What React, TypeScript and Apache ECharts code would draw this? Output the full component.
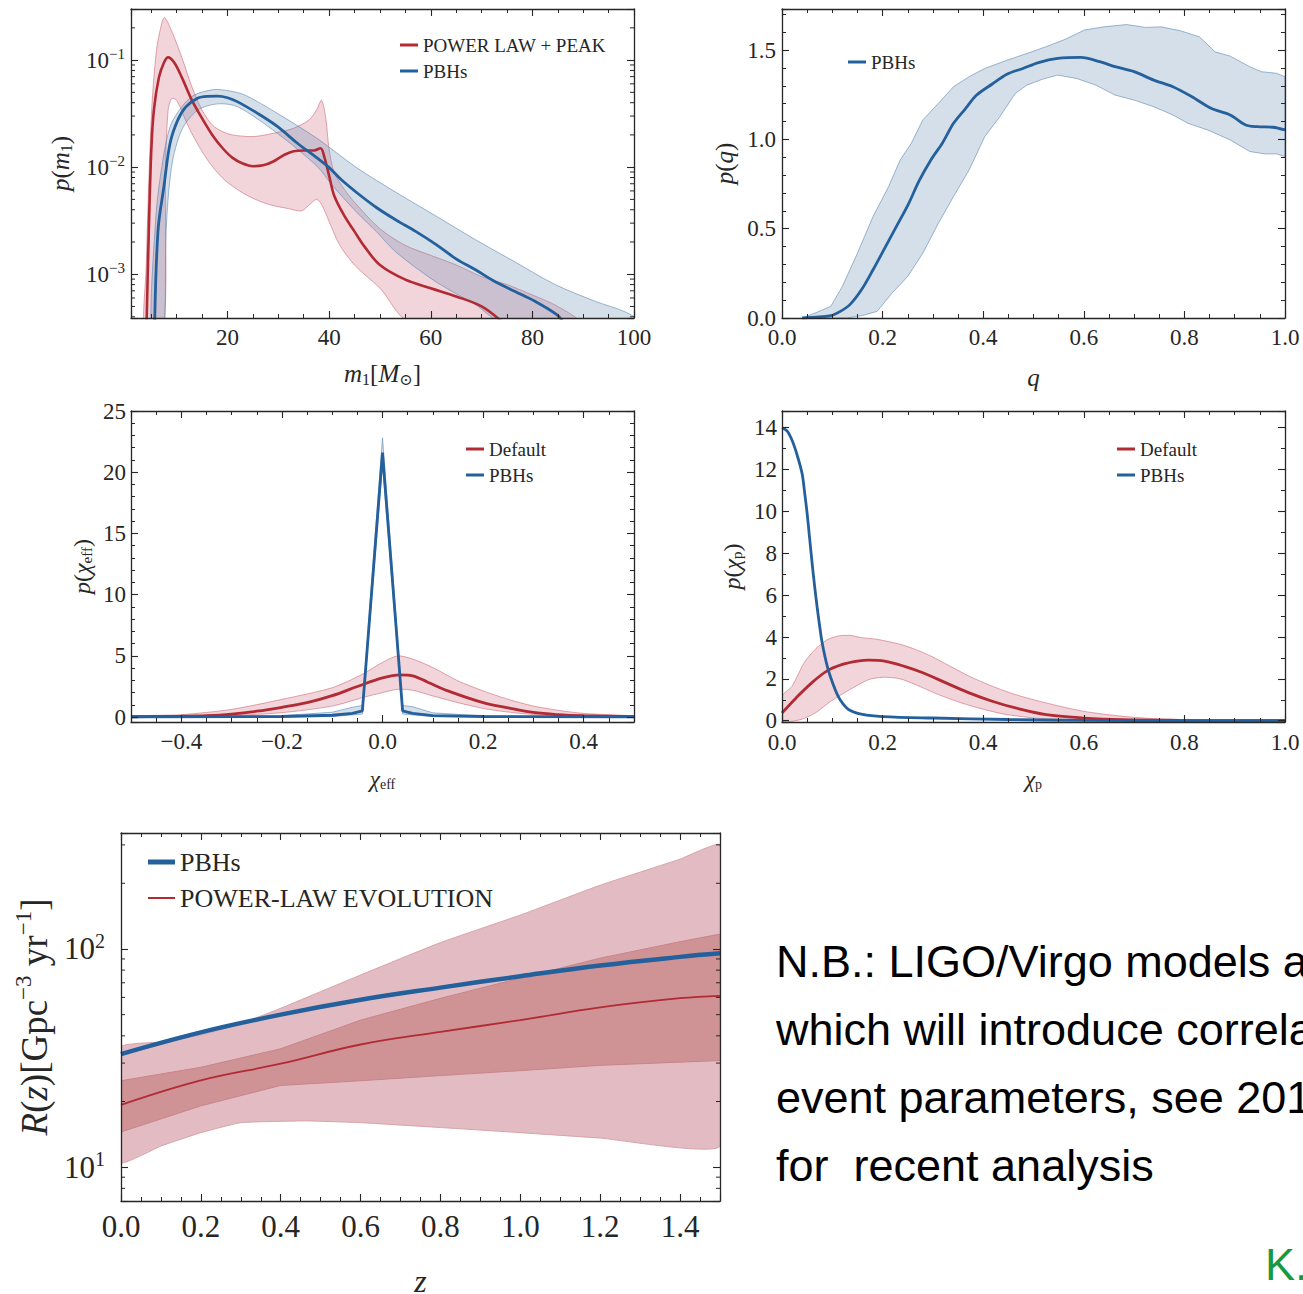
import React, { useEffect, useRef } from 'react';
import * as echarts from 'echarts';

const W = 1303;
const H = 1294;
const SERIF = '"Liberation Serif", "DejaVu Serif", serif';
const SANS = '"Liberation Sans", "DejaVu Sans", sans-serif';
const INK = '#262626';
const RED = '#b22a33';
const BLUE = '#23609c';
const RED_FILL = 'rgba(205, 100, 118, 0.27)';
const RED_EDGE = 'rgba(200, 95, 110, 0.55)';
const BLUE_FILL = 'rgba(95, 135, 178, 0.27)';
const BLUE_EDGE = 'rgba(95, 135, 178, 0.6)';
const OUTER_FILL = '#e2bcc2';
const OUTER_EDGE = '#d8a3aa';
const INNER_FILL = '#cf9396';
const INNER_EDGE = '#c8848a';

// ---------- Panel 1: p(m1) ----------
const m1RedX = [4.0, 4.5, 5, 5.5, 6.5, 7.5, 8.3, 9.5, 11, 13, 15, 17, 19, 21, 23, 25, 27, 29, 31, 33, 35, 37, 38.3, 39, 40, 41, 43, 45, 47, 50, 55, 60, 65, 70, 74];
const m1RedY = [2.5e-4, 2.5e-3, 0.0146, 0.034, 0.069, 0.095, 0.106, 0.095, 0.069, 0.042, 0.0285, 0.02, 0.0151, 0.0122, 0.0108, 0.0102, 0.0104, 0.0113, 0.0129, 0.0141, 0.0143, 0.0143, 0.015, 0.0127, 0.0083, 0.0054, 0.0035, 0.0025, 0.0018, 0.00122, 8.9e-4, 7.4e-4, 6.2e-4, 5.0e-4, 3.6e-4];
const m1RedUpX = [3.8, 4, 5, 6, 7, 7.6, 9, 11, 13, 15, 17, 19, 21, 25, 29, 33, 36, 37.5, 38.5, 39.3, 40, 41, 43, 45, 50, 55, 60, 65, 70, 75, 80, 85, 89];
const m1RedUpY = [2.5e-4, 1.2e-3, 0.0295, 0.122, 0.215, 0.25, 0.187, 0.106, 0.056, 0.034, 0.0248, 0.0215, 0.02, 0.0193, 0.0207, 0.0231, 0.0275, 0.034, 0.042, 0.0295, 0.0146, 0.0089, 0.0062, 0.0047, 0.00266, 0.00186, 0.0015, 0.00122, 9.5e-4, 8e-4, 6.4e-4, 5e-4, 3.6e-4];
const m1RedLoX = [7.3, 7.8, 8.3, 9, 10, 12, 14, 16, 18, 20, 24, 28, 32, 34.5, 36, 37.5, 38.5, 40, 42, 45, 50, 56];
const m1RedLoY = [2.5e-4, 0.0102, 0.034, 0.0437, 0.042, 0.0257, 0.0168, 0.0118, 0.0089, 0.0072, 0.0054, 0.0045, 0.0041, 0.0039, 0.0044, 0.005, 0.0045, 0.0031, 0.0019, 0.00122, 7.4e-4, 3.6e-4];
const m1BlueX = [5.6, 6.3, 7.5, 8.7, 10.2, 11.8, 14.1, 16, 18, 20, 22, 25.9, 29.8, 33.7, 37.6, 40, 42.3, 45.4, 49.3, 53.2, 57.1, 61, 64.9, 68.8, 72.7, 76.6, 80.5, 84.8, 86];
const m1BlueY = [2.5e-4, 2.5e-3, 6.7e-3, 0.0168, 0.0275, 0.0366, 0.044, 0.0458, 0.046, 0.0445, 0.0407, 0.0318, 0.024, 0.0168, 0.0122, 0.0099, 0.0077, 0.0058, 0.0042, 0.0032, 0.0025, 0.0019, 0.0014, 1.1e-3, 8.5e-4, 6.9e-4, 5.6e-4, 4.2e-4, 3.6e-4];
const m1BlueUpX = [5.0, 5.9, 7.1, 8.7, 11, 13.4, 17.3, 20.4, 23.5, 29.8, 37.6, 45.4, 53.2, 61, 68.8, 76.6, 84.5, 92.3, 98.5, 101];
const m1BlueUpY = [2.5e-4, 3.5e-3, 0.0103, 0.024, 0.0366, 0.047, 0.053, 0.0515, 0.047, 0.0318, 0.0186, 0.0099, 0.0058, 0.0035, 0.0021, 0.0013, 8e-4, 5.6e-4, 4.4e-4, 3.6e-4];
const m1BlueLoX = [7.3, 7.9, 9, 11, 14.1, 18, 22, 29.8, 37.6, 40.7, 45.4, 49.3, 53.2, 61, 68.8, 74];
const m1BlueLoY = [2.5e-4, 2.5e-3, 0.0102, 0.0223, 0.034, 0.039, 0.0366, 0.0207, 0.0102, 0.0067, 0.0038, 0.0025, 0.0016, 8.5e-4, 5.2e-4, 3.6e-4];

// ---------- Panel 2: p(q) ----------
const qX = [0.04, 0.097, 0.116, 0.135, 0.158, 0.181, 0.204, 0.227, 0.25, 0.273, 0.296, 0.319, 0.341, 0.364, 0.387, 0.418, 0.448, 0.479, 0.51, 0.548, 0.594, 0.632, 0.662, 0.7, 0.739, 0.777, 0.815, 0.853, 0.891, 0.922, 0.945, 0.976, 1.0];
const qY = [0, 0.013, 0.037, 0.075, 0.158, 0.27, 0.39, 0.51, 0.63, 0.77, 0.885, 0.98, 1.09, 1.17, 1.248, 1.31, 1.366, 1.397, 1.43, 1.453, 1.459, 1.435, 1.407, 1.379, 1.332, 1.295, 1.239, 1.174, 1.137, 1.081, 1.071, 1.068, 1.053];
const qUpX = [0.04, 0.066, 0.097, 0.12, 0.15, 0.181, 0.212, 0.235, 0.257, 0.28, 0.311, 0.341, 0.372, 0.403, 0.448, 0.487, 0.525, 0.563, 0.601, 0.64, 0.685, 0.723, 0.754, 0.792, 0.83, 0.861, 0.891, 0.93, 0.953, 0.983, 1.0];
const qUpY = [0, 0.028, 0.065, 0.177, 0.363, 0.568, 0.736, 0.885, 0.978, 1.109, 1.202, 1.295, 1.351, 1.397, 1.444, 1.481, 1.519, 1.56, 1.612, 1.63, 1.643, 1.627, 1.63, 1.608, 1.574, 1.49, 1.466, 1.407, 1.379, 1.37, 1.351];
const qLoX = [0.04, 0.128, 0.158, 0.189, 0.219, 0.25, 0.28, 0.311, 0.341, 0.372, 0.403, 0.433, 0.464, 0.487, 0.517, 0.548, 0.586, 0.624, 0.662, 0.7, 0.739, 0.777, 0.807, 0.846, 0.891, 0.93, 0.96, 0.983, 1.0];
const qLoY = [0, 0, 0.013, 0.037, 0.14, 0.233, 0.363, 0.531, 0.68, 0.829, 1.015, 1.127, 1.258, 1.304, 1.336, 1.36, 1.341, 1.304, 1.248, 1.22, 1.183, 1.137, 1.09, 1.053, 0.997, 0.932, 0.919, 0.919, 0.904];

// ---------- Panel 3: p(chi_eff) ----------
const ceRedX = [-0.5, -0.4, -0.35, -0.3, -0.25, -0.2, -0.15, -0.1, -0.05, 0, 0.035, 0.06, 0.09, 0.13, 0.2, 0.25, 0.3, 0.35, 0.4, 0.5];
const ceRedY = [0.03, 0.08, 0.12, 0.25, 0.48, 0.8, 1.18, 1.75, 2.5, 3.2, 3.45, 3.37, 2.85, 2.14, 1.18, 0.75, 0.38, 0.2, 0.11, 0.04];
const ceRedUpX = [-0.5, -0.4, -0.3, -0.2, -0.1, -0.04, 0, 0.03, 0.06, 0.1, 0.15, 0.2, 0.25, 0.3, 0.35, 0.4, 0.5];
const ceRedUpY = [0.1, 0.2, 0.63, 1.45, 2.4, 3.5, 4.47, 5.0, 4.74, 4.05, 2.96, 2.14, 1.45, 0.9, 0.55, 0.3, 0.1];
const ceRedLoX = [-0.5, -0.3, -0.2, -0.1, -0.04, 0, 0.03, 0.06, 0.1, 0.15, 0.2, 0.25, 0.3, 0.4, 0.5];
const ceRedLoY = [0.02, 0.14, 0.36, 0.9, 1.59, 2.0, 2.27, 2.19, 1.73, 1.18, 0.71, 0.41, 0.22, 0.06, 0.02];
const ceBlueX = [-0.5, -0.2, -0.1, -0.06, -0.04, 0, 0.04, 0.06, 0.1, 0.2, 0.5];
const ceBlueY = [0.02, 0.05, 0.15, 0.3, 0.5, 21.6, 0.5, 0.3, 0.12, 0.05, 0.02];
const ceBlueUpX = [-0.5, -0.2, -0.1, -0.06, -0.04, 0, 0.04, 0.06, 0.1, 0.2, 0.5];
const ceBlueUpY = [0.06, 0.12, 0.4, 0.8, 0.95, 22.8, 0.95, 0.85, 0.35, 0.1, 0.05];
const ceBlueLoX = [-0.5, -0.1, -0.04, 0, 0.04, 0.1, 0.5];
const ceBlueLoY = [0, 0.04, 0.25, 20.6, 0.25, 0.04, 0];

// ---------- Panel 4: p(chi_p) ----------
const cpBlueX = [0, 0.01, 0.02, 0.03, 0.04, 0.045, 0.05, 0.055, 0.06, 0.065, 0.07, 0.075, 0.08, 0.09, 0.1, 0.11, 0.12, 0.135, 0.16, 0.2, 0.3, 0.45, 0.6, 0.8, 1.0];
const cpBlueY = [14, 13.85, 13.4, 12.7, 11.8, 10.9, 9.9, 8.7, 7.5, 6.4, 5.4, 4.5, 3.7, 2.6, 1.85, 1.25, 0.85, 0.5, 0.3, 0.2, 0.13, 0.06, 0.02, 0.005, 0];
const cpRedX = [0, 0.028, 0.059, 0.089, 0.12, 0.15, 0.173, 0.204, 0.242, 0.28, 0.326, 0.372, 0.418, 0.464, 0.525, 0.6, 0.678, 0.79, 1.0];
const cpRedY = [0.37, 1.09, 1.81, 2.37, 2.69, 2.85, 2.9, 2.85, 2.61, 2.29, 1.81, 1.33, 0.93, 0.61, 0.29, 0.13, 0.05, 0.02, 0];
const cpRedUpX = [0, 0.02, 0.044, 0.066, 0.089, 0.112, 0.135, 0.158, 0.189, 0.235, 0.265, 0.296, 0.334, 0.372, 0.418, 0.464, 0.525, 0.6, 0.678, 0.754, 0.83, 1.0];
const cpRedUpY = [1.17, 1.65, 2.77, 3.41, 3.86, 4.05, 4.08, 3.97, 3.89, 3.65, 3.41, 3.09, 2.61, 2.13, 1.65, 1.25, 0.85, 0.45, 0.21, 0.08, 0.03, 0];
const cpRedLoX = [0, 0.036, 0.066, 0.097, 0.135, 0.173, 0.204, 0.235, 0.265, 0.311, 0.357, 0.403, 0.448, 0.525, 0.6, 1.0];
const cpRedLoY = [0, 0.05, 0.37, 0.93, 1.49, 1.97, 2.08, 2.0, 1.73, 1.25, 0.85, 0.53, 0.29, 0.08, 0.02, 0];

// ---------- Panel 5: R(z) ----------
const zX = [0, 0.2, 0.4, 0.6, 0.8, 1.0, 1.2, 1.4, 1.5];
const zPbh = [33, 41.5, 50, 58.5, 66.5, 75, 84, 92, 95.5];
const zPowerLaw = [19.3, 25, 29.8, 36.5, 41.7, 47.2, 54, 59.5, 61];
const zInnerUp = [24.9, 28.7, 34.9, 47.2, 59.4, 73.5, 90.8, 108, 117];
const zInnerLo = [14.5, 19.1, 23.7, 24.9, 26.3, 27.7, 29.3, 30.3, 30.8];
const zOuterUpX = [0, 0.1, 0.2, 0.3, 0.4, 0.6, 0.8, 1.0, 1.2, 1.4, 1.5];
const zOuterUp = [35.6, 37.5, 40.3, 45.5, 53.5, 76, 107, 143, 196, 258, 300];
const zOuterLoX = [0, 0.1, 0.2, 0.3, 0.46, 0.6, 0.8, 1.0, 1.2, 1.5];
const zOuterLo = [10.5, 12.5, 14.4, 16.0, 16.3, 16.0, 15.2, 14.4, 13.6, 12.5];

// ---------- Text ----------
const noteLines = ['N.B.: LIGO/Virgo models a', 'which will introduce correla', 'event parameters, see 201', 'for  recent analysis'];
const creditText = 'K.';

const GRIDS = [
  { left: 131, top: 9, width: 503, height: 309 },
  { left: 782, top: 9, width: 503, height: 309 },
  { left: 131, top: 411, width: 503, height: 311 },
  { left: 782, top: 411, width: 503, height: 311 },
  { left: 121, top: 833, width: 599, height: 368 },
];

const zip = (xs: number[], ys: number[]) => xs.map((x, i) => [x, ys[i]]);

const stepFmt = (step: number, dec: number) => (v: number) => {
  const r = v / step;
  if (Math.abs(r - Math.round(r)) > 1e-6) return '';
  const a = Math.abs(v) < 1e-9 ? 0 : v;
  const s = Math.abs(a).toFixed(dec);
  return a < 0 ? '\u2212' + s : s;
};
const logFmt = (v: number) => {
  const e = Math.log10(v);
  const re = Math.round(e);
  if (Math.abs(e - re) > 1e-6) return '';
  return `{b|10}{e|${re < 0 ? '\u2212' + Math.abs(re) : String(re)}}`;
};

const labelRich = (fs: number) => ({
  b: { fontFamily: SERIF, fontSize: fs, color: INK },
  e: { fontFamily: SERIF, fontSize: Math.round(fs * 0.64), color: INK, padding: [0, 0, Math.round(fs * 0.5), 0] },
});
const nameRich = (fs: number) => ({
  i: { fontFamily: SERIF, fontStyle: 'italic', fontSize: fs, color: INK },
  n: { fontFamily: SERIF, fontSize: fs, color: INK },
  s: { fontFamily: SERIF, fontSize: Math.round(fs * 0.62), color: INK, padding: [Math.round(fs * 0.42), 0, 0, 0] },
  u: { fontFamily: SERIF, fontSize: Math.round(fs * 0.62), color: INK, padding: [0, 0, Math.round(fs * 0.6), 0] },
});

type Spec = {
  type: 'value' | 'log';
  min: number;
  max: number;
  interval?: number;
  splitNumber?: number;
  minor?: number;
  fmt: (v: number) => string;
  fontSize: number;
  margin: number;
  name: string;
  nameSize: number;
  nameGap: number;
};

function axisPair(spec: Spec, gridIndex: number, dim: 'x' | 'y') {
  const make = (position: string, main: boolean) => {
    const ax: any = {
      type: spec.type,
      gridIndex,
      position,
      min: spec.min,
      max: spec.max,
      z: 6,
      silent: true,
      axisLine: { show: true, onZero: false, lineStyle: { color: INK, width: 1.3 } },
      axisTick: { show: true, inside: true, length: 7, lineStyle: { color: INK, width: 1.1 } },
      minorTick: spec.minor
        ? { show: true, splitNumber: spec.minor, length: 4, lineStyle: { color: INK, width: 1 } }
        : { show: false },
      splitLine: { show: false },
      minorSplitLine: { show: false },
      axisPointer: { show: false },
      axisLabel: { show: false },
    };
    if (spec.type === 'log') ax.logBase = 10;
    if (spec.interval !== undefined) ax.interval = spec.interval;
    if (spec.splitNumber !== undefined) ax.splitNumber = spec.splitNumber;
    if (main) {
      ax.axisLabel = {
        show: true,
        margin: spec.margin,
        formatter: spec.fmt,
        color: INK,
        fontFamily: SERIF,
        fontSize: spec.fontSize,
        rich: labelRich(spec.fontSize),
      };
      ax.name = spec.name;
      ax.nameLocation = 'middle';
      ax.nameGap = spec.nameGap;
      ax.nameRotate = dim === 'y' ? 90 : 0;
      ax.nameMoveOverlap = false;
      ax.nameTextStyle = { color: INK, fontFamily: SERIF, fontSize: spec.nameSize, rich: nameRich(spec.nameSize) };
    }
    return ax;
  };
  return dim === 'x' ? [make('bottom', true), make('top', false)] : [make('left', true), make('right', false)];
}

const X_SPECS: Spec[] = [
  { type: 'value', min: 1, max: 100, splitNumber: 5, minor: 4, fmt: stepFmt(20, 0), fontSize: 23, margin: 8, name: '{i|m}{s|1}{n|[}{i|M}{s|\u2299}{n|]}', nameSize: 25, nameGap: 42 },
  { type: 'value', min: 0, max: 1, interval: 0.2, minor: 4, fmt: stepFmt(0.2, 1), fontSize: 23, margin: 8, name: '{i|q}', nameSize: 25, nameGap: 47 },
  { type: 'value', min: -0.5, max: 0.5, splitNumber: 5, minor: 4, fmt: stepFmt(0.2, 1), fontSize: 23, margin: 8, name: '{i|\u03c7}{s|eff}', nameSize: 23, nameGap: 45 },
  { type: 'value', min: 0, max: 1, interval: 0.2, minor: 4, fmt: stepFmt(0.2, 1), fontSize: 23, margin: 9, name: '{i|\u03c7}{s|p}', nameSize: 23, nameGap: 45 },
  { type: 'value', min: 0, max: 1.5, interval: 0.2, minor: 4, fmt: stepFmt(0.2, 1), fontSize: 31, margin: 10, name: '{i|z}', nameSize: 32, nameGap: 64 },
];
const Y_SPECS: Spec[] = [
  { type: 'log', min: 3.9e-4, max: 0.3, fmt: logFmt, fontSize: 23, margin: 6, name: '{i|p}{n|(}{i|m}{s|1}{n|)}', nameSize: 25, nameGap: 57 },
  { type: 'value', min: 0, max: 1.73, interval: 0.5, minor: 5, fmt: stepFmt(0.5, 1), fontSize: 23, margin: 6, name: '{i|p}{n|(}{i|q}{n|)}', nameSize: 25, nameGap: 45 },
  { type: 'value', min: -0.4, max: 25, splitNumber: 5, minor: 5, fmt: stepFmt(5, 0), fontSize: 23, margin: 5, name: '{i|p}{n|(}{i|\u03c7}{s|eff}{n|)}', nameSize: 24, nameGap: 37 },
  { type: 'value', min: -0.06, max: 14.8, splitNumber: 7, minor: 2, fmt: stepFmt(2, 0), fontSize: 23, margin: 5, name: '{i|p}{n|(}{i|\u03c7}{s|p}{n|)}', nameSize: 24, nameGap: 38 },
  { type: 'log', min: 7, max: 340, fmt: logFmt, fontSize: 31, margin: 16, name: '{i|R}{n|(}{i|z}{n|)[Gpc}{u|\u22123}{n| yr}{u|\u22121}{n|]}', nameSize: 37, nameGap: 64 },
];

function bandSeries(gi: number, upX: number[], upY: number[], loX: number[], loY: number[], fill: string, stroke: string, smooth: number) {
  return {
    type: 'custom',
    xAxisIndex: gi * 2,
    yAxisIndex: gi * 2,
    silent: true,
    clip: true,
    z: 2,
    data: [[upX[0], upY[0]]],
    renderItem: (_params: any, api: any) => {
      const points: number[][] = [];
      for (let i = 0; i < upX.length; i++) points.push(api.coord([upX[i], upY[i]]));
      for (let i = loX.length - 1; i >= 0; i--) points.push(api.coord([loX[i], loY[i]]));
      return { type: 'polygon', shape: { points, smooth }, style: { fill, stroke, lineWidth: 1 } };
    },
  };
}

function lineSeries(gi: number, name: string, xs: number[], ys: number[], color: string, width: number, smooth: number) {
  return {
    type: 'line',
    name,
    xAxisIndex: gi * 2,
    yAxisIndex: gi * 2,
    data: zip(xs, ys),
    showSymbol: false,
    symbol: 'none',
    smooth,
    clip: true,
    silent: true,
    z: 3,
    itemStyle: { color },
    lineStyle: { color, width },
    emphasis: { disabled: true },
  };
}

function logMinorTicks(gi: number, xmin: number, ymin: number, ymax: number) {
  const vals: number[] = [];
  for (let e = Math.floor(Math.log10(ymin)) - 1; e <= Math.ceil(Math.log10(ymax)); e++) {
    for (let k = 2; k <= 9; k++) {
      const v = k * Math.pow(10, e);
      if (v > ymin * 1.001 && v < ymax * 0.999) vals.push(v);
    }
  }
  return {
    type: 'custom',
    xAxisIndex: gi * 2,
    yAxisIndex: gi * 2,
    silent: true,
    clip: false,
    z: 7,
    data: vals.map((v) => [xmin, v]),
    renderItem: (params: any, api: any) => {
      const cs = params.coordSys;
      const y = api.coord([api.value(0), api.value(1)])[1];
      const st = { stroke: INK, lineWidth: 1 };
      return {
        type: 'group',
        children: [
          { type: 'line', shape: { x1: cs.x, y1: y, x2: cs.x + 4, y2: y }, style: st },
          { type: 'line', shape: { x1: cs.x + cs.width - 4, y1: y, x2: cs.x + cs.width, y2: y }, style: st },
        ],
      };
    },
  };
}

function legendItem(name: string, left: number, centerY: number, fontSize: number, color: string, iconW: number, iconH: number) {
  return {
    show: true,
    left,
    top: centerY - fontSize / 2,
    padding: 0,
    itemWidth: iconW,
    itemHeight: iconH,
    icon: 'rect',
    selectedMode: false,
    textStyle: { fontFamily: SERIF, fontSize, color: INK },
    data: [{ name, icon: 'rect', itemStyle: { color, borderWidth: 0 } }],
  };
}

function buildOption() {
  const xAxis: any[] = [];
  const yAxis: any[] = [];
  for (let i = 0; i < 5; i++) {
    xAxis.push(...axisPair(X_SPECS[i], i, 'x'));
    yAxis.push(...axisPair(Y_SPECS[i], i, 'y'));
  }
  const series: any[] = [
    // panel 1
    bandSeries(0, m1RedUpX, m1RedUpY, m1RedLoX, m1RedLoY, RED_FILL, RED_EDGE, 0.3),
    bandSeries(0, m1BlueUpX, m1BlueUpY, m1BlueLoX, m1BlueLoY, BLUE_FILL, BLUE_EDGE, 0.3),
    lineSeries(0, 'POWER LAW + PEAK', m1RedX, m1RedY, RED, 2.6, 0.35),
    lineSeries(0, 'PBHs', m1BlueX, m1BlueY, BLUE, 2.8, 0.35),
    logMinorTicks(0, 1, 3.9e-4, 0.3),
    // panel 2
    bandSeries(1, qUpX, qUpY, qLoX, qLoY, BLUE_FILL, BLUE_EDGE, 0),
    lineSeries(1, 'PBHs', qX, qY, BLUE, 2.8, 0.3),
    // panel 3
    bandSeries(2, ceRedUpX, ceRedUpY, ceRedLoX, ceRedLoY, RED_FILL, RED_EDGE, 0.25),
    bandSeries(2, ceBlueUpX, ceBlueUpY, ceBlueLoX, ceBlueLoY, BLUE_FILL, BLUE_EDGE, 0),
    lineSeries(2, 'Default', ceRedX, ceRedY, RED, 2.8, 0.35),
    lineSeries(2, 'PBHs', ceBlueX, ceBlueY, BLUE, 2.8, 0),
    // panel 4
    bandSeries(3, cpRedUpX, cpRedUpY, cpRedLoX, cpRedLoY, RED_FILL, RED_EDGE, 0.25),
    lineSeries(3, 'Default', cpRedX, cpRedY, RED, 2.8, 0.35),
    lineSeries(3, 'PBHs', cpBlueX, cpBlueY, BLUE, 2.8, 0.35),
    // panel 5
    bandSeries(4, zOuterUpX, zOuterUp, zOuterLoX, zOuterLo, OUTER_FILL, OUTER_EDGE, 0.12),
    bandSeries(4, zX, zInnerUp, zX, zInnerLo, INNER_FILL, INNER_EDGE, 0),
    lineSeries(4, 'POWER-LAW EVOLUTION', zX, zPowerLaw, RED, 1.8, 0.4),
    lineSeries(4, 'PBHs', zX, zPbh, BLUE, 4.5, 0.4),
    logMinorTicks(4, 0, 7, 340),
  ];
  const legend = [
    legendItem('POWER LAW + PEAK', 400, 45, 19, RED, 18, 3),
    legendItem('PBHs', 400, 71, 19, BLUE, 18, 3),
    legendItem('PBHs', 848, 62, 19, BLUE, 18, 3),
    legendItem('Default', 466, 449, 19, RED, 18, 3),
    legendItem('PBHs', 466, 475, 19, BLUE, 18, 3),
    legendItem('Default', 1117, 449, 19, RED, 18, 3),
    legendItem('PBHs', 1117, 475, 19, BLUE, 18, 3),
    legendItem('PBHs', 148, 862, 26, BLUE, 27, 5),
    legendItem('POWER-LAW EVOLUTION', 148, 898, 26, RED, 27, 2),
  ];
  const graphic = {
    elements: [
      ...noteLines.map((t, i) => ({
        type: 'text',
        x: 776,
        y: 961 + i * 68,
        silent: true,
        style: { text: t, fontFamily: SANS, fontSize: 45, fill: '#000', align: 'left', verticalAlign: 'middle', textAlign: 'left', textVerticalAlign: 'middle' },
      })),
      {
        type: 'text',
        x: 1265,
        y: 1264,
        silent: true,
        style: { text: creditText, fontFamily: SANS, fontSize: 45, fill: '#149a45', align: 'left', verticalAlign: 'middle', textAlign: 'left', textVerticalAlign: 'middle' },
      },
    ],
  };
  return {
    animation: false,
    backgroundColor: '#fff',
    grid: GRIDS.map((g) => ({ ...g, containLabel: false, outerBoundsMode: 'none' })),
    xAxis,
    yAxis,
    series,
    legend,
    graphic,
  };
}

export default function App() {
  const ref = useRef<HTMLDivElement>(null);
  useEffect(() => {
    if (!ref.current) return;
    const chart = echarts.init(ref.current, undefined, { renderer: 'svg', width: W, height: H });
    chart.setOption(buildOption() as any);
    return () => chart.dispose();
  }, []);
  return (
    <div
      ref={ref}
      style={{ position: 'absolute', left: 0, top: 0, width: W, height: H, background: '#fff', overflow: 'hidden' }}
    />
  );
}
